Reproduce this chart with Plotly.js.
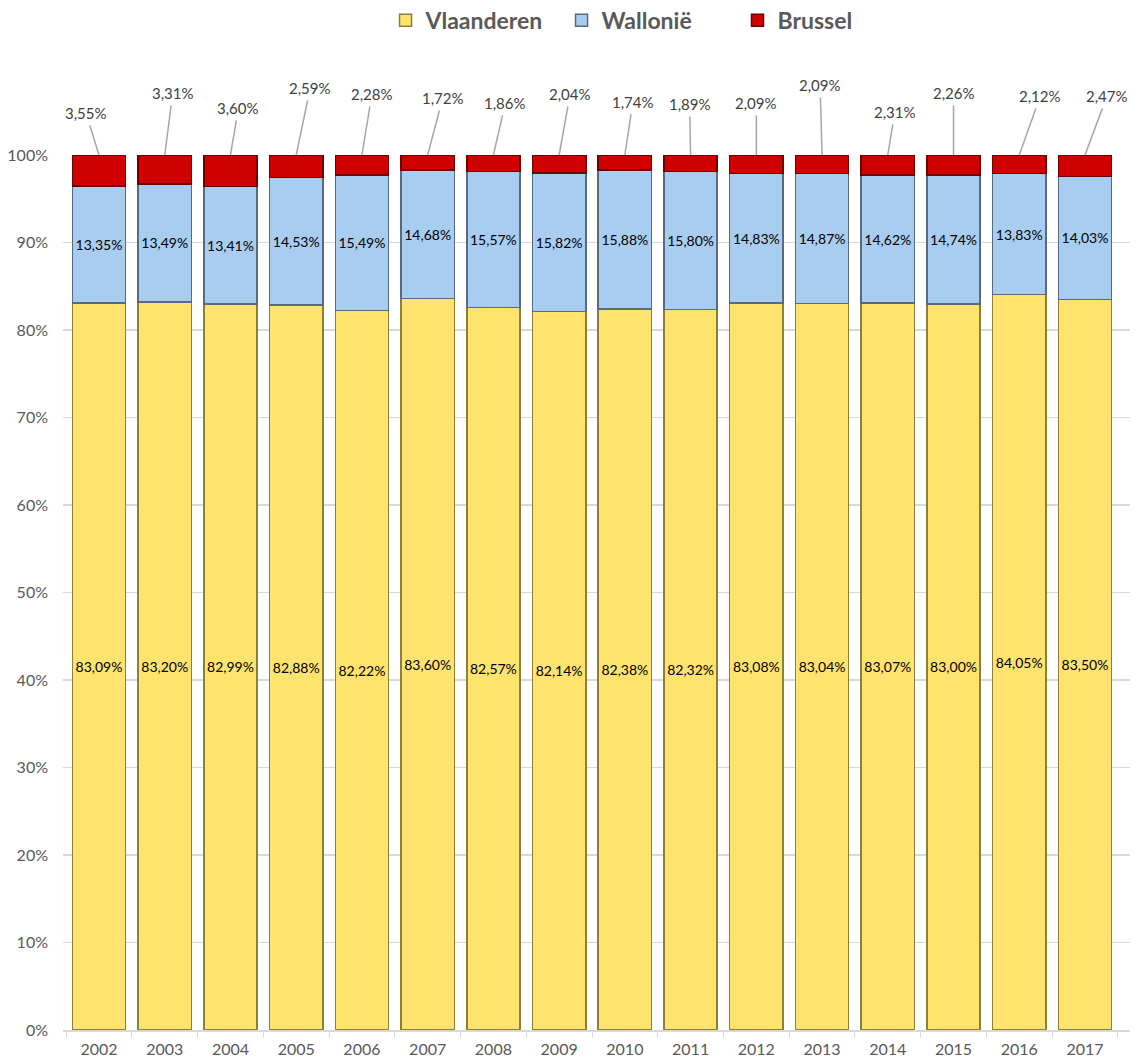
<!DOCTYPE html>
<html>
<head>
<meta charset="utf-8">
<script src="https://cdn.plot.ly/plotly-3.0.1.min.js"></script>
<style>html,body{margin:0;padding:0;background:#fff;}#chart{width:1144px;height:1064px;}</style>
</head>
<body>
<div id="chart"></div>
<script>
const years = ['2002','2003','2004','2005','2006','2007','2008','2009','2010','2011','2012','2013','2014','2015','2016','2017'];
const vlaanderen = [83.09,83.20,82.99,82.88,82.22,83.60,82.57,82.14,82.38,82.32,83.08,83.04,83.07,83.00,84.05,83.50];
const wallonie = [13.35,13.49,13.41,14.53,15.49,14.68,15.57,15.82,15.88,15.80,14.83,14.87,14.62,14.74,13.83,14.03];
const brussel = [3.55,3.31,3.60,2.59,2.28,1.72,1.86,2.04,1.74,1.89,2.09,2.09,2.31,2.26,2.12,2.47];
// label offsets (pixels) for the Brussel callouts
const labelDx = [-13,8,8,14,10,15,12,11,8,-1,0,-2,7,0,21,22];
const labelDy = [-42,-62,-47,-67,-61,-57,-52,-61,-53,-51,-52,-70,-43,-62,-59,-59];

const fontFam = 'Lato, "Open Sans", sans-serif';
const insideFont = {family: fontFam, size: 14, color: '#000000'};

const traces = [
  {name: 'Vlaanderen', type: 'bar', x: years, y: vlaanderen,
   marker: {color: '#FFE36F', line: {color: '#8F7E35', width: 1.5}},
   texttemplate: '%{y:.2f}%', textposition: 'inside', insidetextanchor: 'middle',
   textfont: insideFont, constraintext: 'none', hoverinfo: 'skip'},
  {name: 'Wallonië', type: 'bar', x: years, y: wallonie,
   marker: {color: '#A9CDF0', line: {color: '#566B80', width: 1.5}},
   texttemplate: '%{y:.2f}%', textposition: 'inside', insidetextanchor: 'middle',
   textfont: insideFont, constraintext: 'none', hoverinfo: 'skip'},
  {name: 'Brussel', type: 'bar', x: years, y: brussel,
   marker: {color: '#D00000', line: {color: '#6E0000', width: 1.5}},
   textposition: 'none', hoverinfo: 'skip'}
];

const annotations = years.map((yr, i) => ({
  x: i, y: 100, xref: 'x', yref: 'y',
  text: brussel[i].toFixed(2).replace('.', ',') + '%',
  showarrow: true, arrowhead: 0, arrowwidth: 1.5, arrowcolor: '#A6A6A6',
  ax: labelDx[i], ay: labelDy[i], standoff: 0, startstandoff: 2,
  font: {family: fontFam, size: 15, color: '#404040'}
}));

const layout = {
  width: 1144, height: 1064,
  margin: {l: 63, r: 14, t: 155, b: 34, autoexpand: false},
  barmode: 'stack', bargap: 0.19,
  paper_bgcolor: '#ffffff', plot_bgcolor: '#ffffff',
  separators: ',.',
  font: {family: fontFam, color: '#595959'},
  showlegend: true,
  legend: {orientation: 'h', xref: 'container', x: 0.337, xanchor: 'left',
           yref: 'container', y: 0.981, yanchor: 'middle',
           font: {family: fontFam, size: 23, color: '#595959', weight: 'bold'},
           traceorder: 'normal', itemwidth: 30, entrywidth: 131, entrywidthmode: 'pixels'},
  xaxis: {type: 'category', categoryorder: 'array', categoryarray: years,
          showline: true, linecolor: '#D9D9D9', linewidth: 1.5,
          ticks: 'outside', tickson: 'boundaries', ticklen: 6, tickcolor: '#D9D9D9',
          tickangle: 0, ticklabelstandoff: 4,
          tickfont: {family: fontFam, size: 16, color: '#595959'}, showgrid: false},
  yaxis: {range: [0, 100], dtick: 10, ticksuffix: '%', showline: false,
          gridcolor: '#D9D9D9', gridwidth: 1.5, zeroline: false,
          tickfont: {family: fontFam, size: 16, color: '#595959'}, ticklabelstandoff: 14},
  annotations: annotations
};

Plotly.newPlot('chart', traces, layout, {displayModeBar: false, staticPlot: true});
</script>
</body>
</html>
